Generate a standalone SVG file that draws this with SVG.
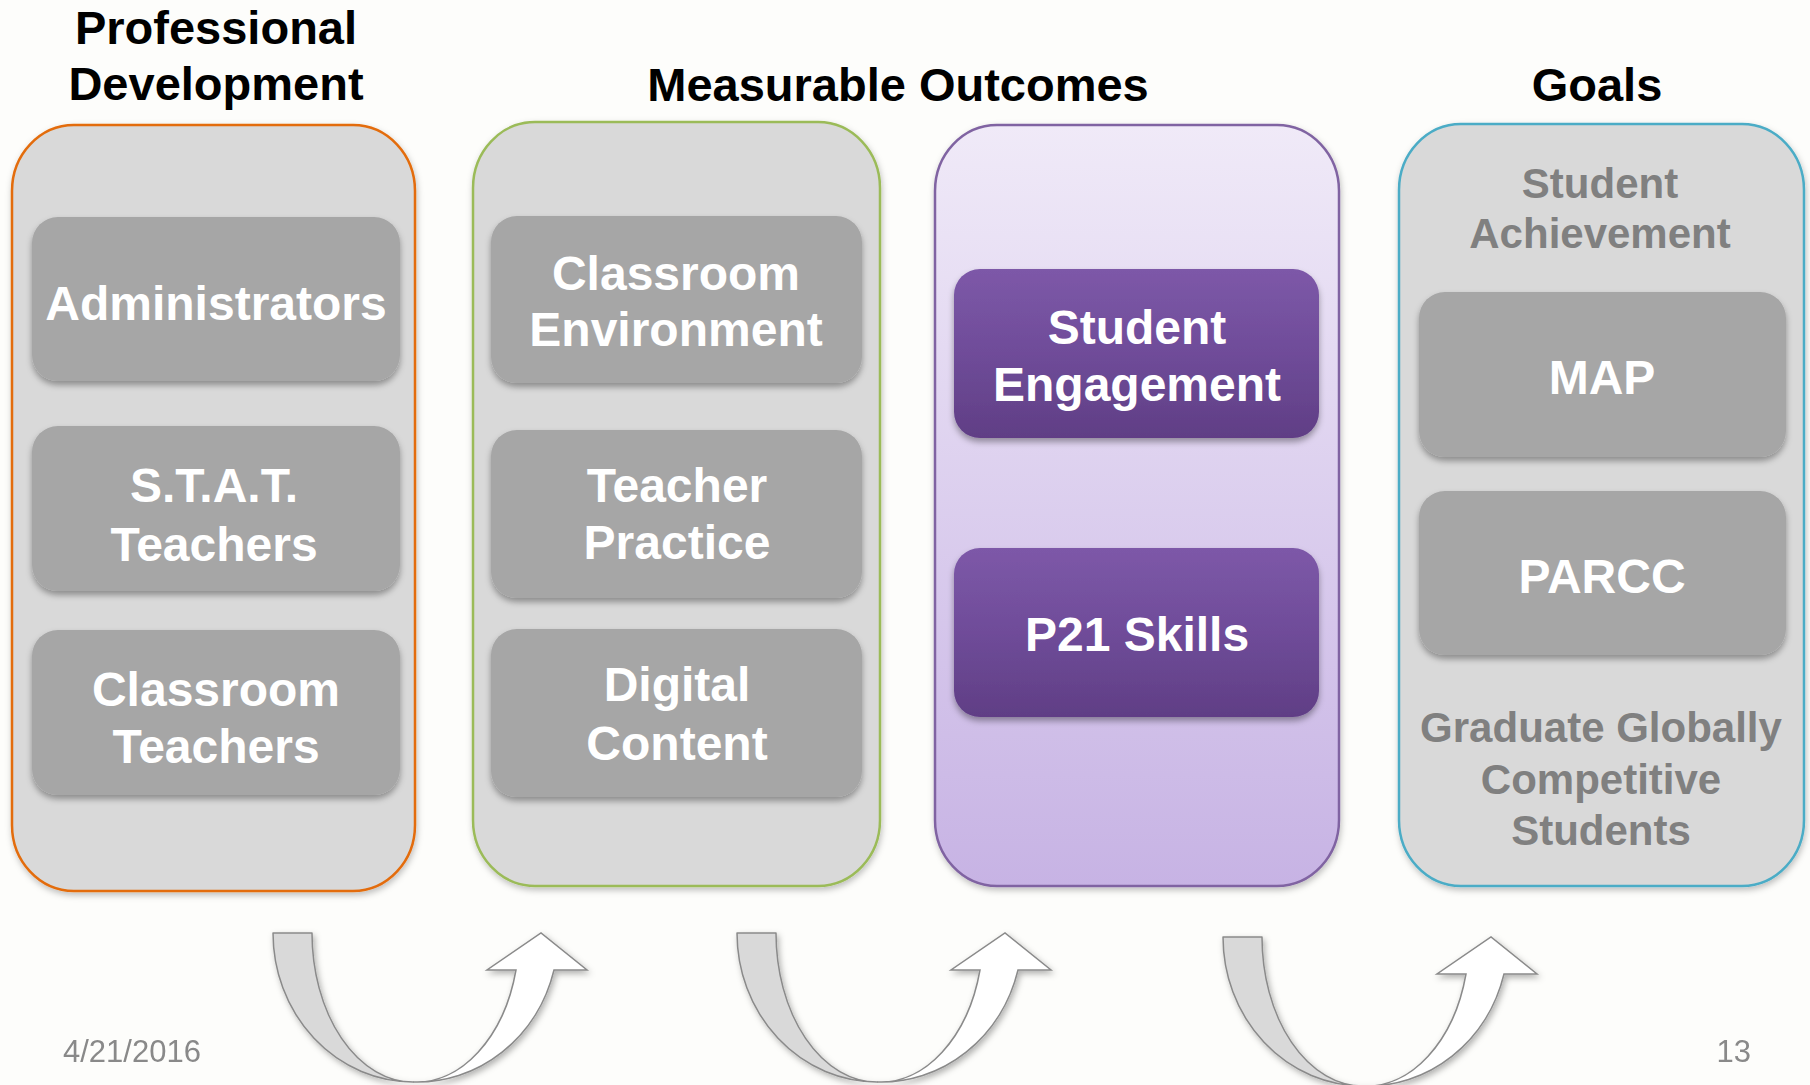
<svg xmlns="http://www.w3.org/2000/svg" width="1810" height="1085" viewBox="0 0 1810 1085">
<defs>
  <filter id="shCont" x="-10%" y="-10%" width="120%" height="120%">
    <feDropShadow dx="1" dy="3" stdDeviation="3" flood-color="#000" flood-opacity="0.25"/>
  </filter>
  <filter id="shNode" x="-10%" y="-10%" width="120%" height="130%">
    <feDropShadow dx="0" dy="4" stdDeviation="3" flood-color="#000" flood-opacity="0.35"/>
  </filter>
  <filter id="shArrow" x="-20%" y="-20%" width="140%" height="140%">
    <feDropShadow dx="2" dy="3" stdDeviation="3" flood-color="#000" flood-opacity="0.3"/>
  </filter>
  <linearGradient id="gPurpleCont" x1="0" y1="0" x2="0" y2="1">
    <stop offset="0" stop-color="#f0eaf8"/>
    <stop offset="1" stop-color="#c7b3e4"/>
  </linearGradient>
  <linearGradient id="gPurpleNode" x1="0" y1="0" x2="0" y2="1">
    <stop offset="0" stop-color="#7d58a8"/>
    <stop offset="0.5" stop-color="#6f4c99"/>
    <stop offset="1" stop-color="#603e85"/>
  </linearGradient>
  <g id="uarrow">
    <path d="M0,0 L39,0 A101,149 0 0 0 140,149 A140,149 0 0 1 0,0 Z" fill="#d9d9d9" stroke="#8a8a8a" stroke-width="1.5" stroke-linejoin="round"/>
    <path d="M140,149 A141,149 0 0 0 281,37 L314,37 L268,0 L214,37 L243,37 A103,149 0 0 1 140,149 Z" fill="#ffffff" stroke="#8a8a8a" stroke-width="1.5" stroke-linejoin="miter"/>
  </g>
</defs>
<style>
  .title { font-family: "Liberation Sans", Arial, sans-serif; font-weight: bold; font-size: 47px; fill: #000; text-anchor: middle; }
  .ntext { font-family: "Liberation Sans", Arial, sans-serif; font-weight: bold; font-size: 48px; fill: #fff; text-anchor: middle; }
  .gtext { font-family: "Liberation Sans", Arial, sans-serif; font-weight: bold; font-size: 42px; fill: #808080; text-anchor: middle; }
  .foot { font-family: "Liberation Sans", Arial, sans-serif; font-size: 31px; fill: #898989; }
  .cont { stroke-width: 2.5; filter: url(#shCont); }
  .gnode { fill: #a6a6a6; filter: url(#shNode); }
  .pnode { fill: url(#gPurpleNode); filter: url(#shNode); }
</style>
<rect x="0" y="0" width="1810" height="1085" fill="#fdfdfb"/>

<g id="titles">
  <text class="title" x="216" y="44">Professional</text>
  <text class="title" x="216" y="100">Development</text>
  <text class="title" x="898" y="101">Measurable Outcomes</text>
  <text class="title" x="1597" y="101">Goals</text>
</g>

<g id="col-professional-development">
  <rect class="cont" x="12" y="125" width="403" height="766" rx="62" ry="66" fill="#d9d9d9" stroke="#e36c0a"/>
</g>
<g id="col-outcomes-1">
  <rect class="cont" x="473" y="122" width="407" height="764" rx="62" ry="66" fill="#d9d9d9" stroke="#9bbb59"/>
</g>
<g id="col-outcomes-2">
  <rect class="cont" x="935" y="125" width="404" height="761" rx="62" ry="66" fill="url(#gPurpleCont)" stroke="#8064a2"/>
</g>
<g id="col-goals">
  <rect class="cont" x="1399" y="124" width="405" height="762" rx="62" ry="66" fill="#d9d9d9" stroke="#4bacc6"/>
  <text class="gtext" x="1600" y="198">Student</text>
  <text class="gtext" x="1600" y="248">Achievement</text>
  <text class="gtext" x="1601" y="742">Graduate Globally</text>
  <text class="gtext" x="1601" y="794">Competitive</text>
  <text class="gtext" x="1601" y="845">Students</text>
</g>

<g id="node-administrators">
  <rect class="gnode" x="32" y="217" width="368" height="164" rx="26"/>
  <text class="ntext" x="216" y="320">Administrators</text>
</g>
<g id="node-stat-teachers">
  <rect class="gnode" x="32" y="426" width="368" height="165" rx="26"/>
  <text class="ntext" x="214" y="502">S.T.A.T.</text>
  <text class="ntext" x="214" y="561">Teachers</text>
</g>
<g id="node-classroom-teachers">
  <rect class="gnode" x="32" y="630" width="368" height="165" rx="26"/>
  <text class="ntext" x="216" y="706">Classroom</text>
  <text class="ntext" x="216" y="763">Teachers</text>
</g>

<g id="node-classroom-environment">
  <rect class="gnode" x="491" y="216" width="371" height="167" rx="26"/>
  <text class="ntext" x="676" y="290">Classroom</text>
  <text class="ntext" x="676" y="346">Environment</text>
</g>
<g id="node-teacher-practice">
  <rect class="gnode" x="491" y="430" width="371" height="168" rx="26"/>
  <text class="ntext" x="677" y="502">Teacher</text>
  <text class="ntext" x="677" y="559">Practice</text>
</g>
<g id="node-digital-content">
  <rect class="gnode" x="491" y="629" width="371" height="168" rx="26"/>
  <text class="ntext" x="677" y="701">Digital</text>
  <text class="ntext" x="677" y="760">Content</text>
</g>

<g id="node-student-engagement">
  <rect class="pnode" x="954" y="269" width="365" height="169" rx="26"/>
  <text class="ntext" x="1137" y="344">Student</text>
  <text class="ntext" x="1137" y="401">Engagement</text>
</g>
<g id="node-p21-skills">
  <rect class="pnode" x="954" y="548" width="365" height="169" rx="26"/>
  <text class="ntext" x="1137" y="651">P21 Skills</text>
</g>

<g id="node-map">
  <rect class="gnode" x="1419" y="292" width="367" height="165" rx="26"/>
  <text class="ntext" x="1602" y="394">MAP</text>
</g>
<g id="node-parcc">
  <rect class="gnode" x="1419" y="491" width="367" height="164" rx="26"/>
  <text class="ntext" x="1602" y="593">PARCC</text>
</g>

<g id="connectors" filter="url(#shArrow)">
  <use href="#uarrow" transform="translate(273,933)"/>
  <use href="#uarrow" transform="translate(737,933)"/>
  <use href="#uarrow" transform="translate(1223,937)"/>
</g>

<g id="footer">
  <text class="foot" x="63" y="1062">4/21/2016</text>
  <text class="foot" x="1751" y="1062" text-anchor="end">13</text>
</g>
</svg>
